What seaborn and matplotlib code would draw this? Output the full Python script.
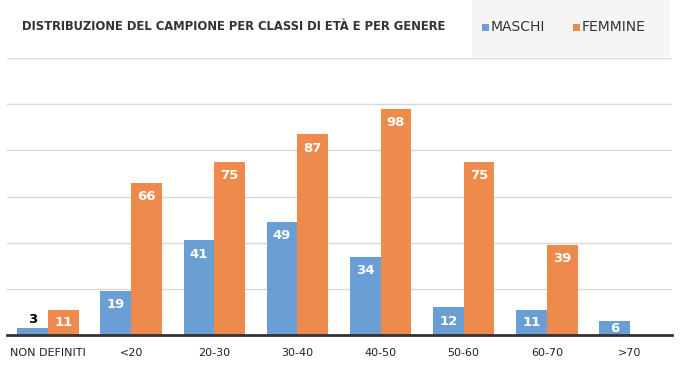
import matplotlib
matplotlib.use("Agg")
import matplotlib.pyplot as plt
import seaborn as sns
import pandas as pd
from matplotlib.patches import Rectangle

categories = ["NON DEFINITI", "<20", "20-30", "30-40", "40-50", "50-60", "60-70", ">70"]
maschi = [3, 19, 41, 49, 34, 12, 11, 6]
femmine = [11, 66, 75, 87, 98, 75, 39, 0]
series = ["MASCHI", "FEMMINE"]
title = "DISTRIBUZIONE DEL CAMPIONE PER CLASSI DI ETÀ E PER GENERE"

df = pd.DataFrame({
    "classe": categories * 2,
    "valore": maschi + femmine,
    "genere": [series[0]] * len(categories) + [series[1]] * len(categories),
})

sns.set_theme(style="white")
plt.rcParams['font.family'] = ['DejaVu Sans']

blue = "#6a9fd6"
orange = "#ee8b4c"

fig = plt.figure(figsize=(6.82, 3.77), dpi=100)
fig.patch.set_facecolor("white")
fig.patches.append(Rectangle((472 / 682, 1 - 57 / 377), 198 / 682, 57 / 377,
                             transform=fig.transFigure, facecolor="#f5f5f5",
                             edgecolor="none", zorder=0))

ax = fig.add_axes([6.5 / 682, 42 / 377, 665 / 682, 277 / 377])
sns.barplot(data=df, x="classe", y="valore", hue="genere", order=categories,
            hue_order=series, palette=[blue, orange], width=0.74, ax=ax,
            saturation=1, legend=False, linewidth=0)

ax.set_ylim(0, 120)
ax.set_yticks(range(20, 121, 20))
ax.yaxis.grid(True, color="#d9d9d9", linewidth=1)
ax.set_axisbelow(True)
ax.set_yticklabels([])
ax.tick_params(axis="y", length=0)
ax.tick_params(axis="x", length=0, labelsize=8, colors="#222222", pad=9)
ax.set_xlabel("")
ax.set_ylabel("")
for s in ["top", "left", "right"]:
    ax.spines[s].set_visible(False)
ax.spines["bottom"].set_color("#333333")
ax.spines["bottom"].set_linewidth(2)
ax.set_xlim(-0.5, len(categories) - 0.5)

for container in ax.containers:
    for rect in container:
        h = rect.get_height()
        if h <= 0:
            continue
        cx = rect.get_x() + rect.get_width() / 2
        if h < 4:
            ax.text(cx, h + 1.0, f"{int(h)}", ha="center", va="bottom",
                    fontsize=9.5, fontweight="bold", color="black")
        else:
            off = min(6.0, h / 2)
            ax.text(cx, h - off, f"{int(h)}", ha="center", va="center",
                    fontsize=9.5, fontweight="bold", color="white")

fig.text(22 / 682, 1 - 27 / 377, title, fontsize=9.3, fontweight="bold",
         fontstretch="condensed", color="#333333", ha="left", va="center",
         family=["DejaVu Sans"])

for lab, col, x in [(series[0], blue, 482), (series[1], orange, 573)]:
    fig.patches.append(Rectangle((x / 682, 1 - 31 / 377), 7 / 682, 7 / 377,
                                 transform=fig.transFigure, facecolor=col,
                                 edgecolor="none"))
    fig.text((x + 9) / 682, 1 - 27 / 377, lab, fontsize=10, color="#333333",
             ha="left", va="center")

fig.savefig("out.png", dpi=100)
